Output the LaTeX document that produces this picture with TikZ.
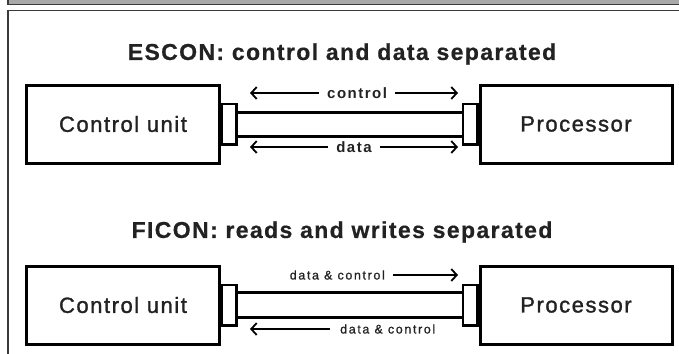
\documentclass[tikz,border=0pt]{standalone}
\usepackage{fontspec}
\setmainfont{Liberation Sans}
\usetikzlibrary{arrows.meta}
\usetikzlibrary{positioning}

\newfontfamily\headfont[LetterSpace=6,FakeBold=0.6]{Liberation Sans Bold}
\newfontfamily\boxfont[LetterSpace=7,FakeBold=1.4]{Liberation Sans}
\newfontfamily\tagfont[LetterSpace=10]{Liberation Sans Bold}
\newfontfamily\smallfont[LetterSpace=13,FakeBold=0.8]{Liberation Sans}
\definecolor{band}{HTML}{A9A9A9}
\definecolor{rim}{HTML}{3A3A3A}
\definecolor{ink}{HTML}{222222}

\tikzset{
  unit/.style={draw,line width=3bp,minimum width=192bp,minimum height=78bp,
    text=ink,font=\boxfont\fontsize{22bp}{24bp}\selectfont},
  plug/.style={draw,line width=2.5bp,minimum width=14.5bp,minimum height=40.5bp,inner sep=0pt},
  cable/.style={line width=3bp},
  flow/.style={line width=1.8bp,-{Straight Barb[length=5.5bp,width=12bp]}},
  both/.style={line width=1.8bp,{Straight Barb[length=5.5bp,width=12bp]}-{Straight Barb[length=5.5bp,width=12bp]}},
  tag/.style={fill=white,inner xsep=8bp,inner ysep=1bp,text=ink,font=\tagfont\fontsize{15bp}{17bp}\selectfont},
  smalltag/.style={inner sep=0pt,text=ink,font=\smallfont\fontsize{12.5bp}{14bp}\selectfont},
  heading/.style={text=ink,font=\headfont\fontsize{23bp}{26bp}\selectfont}
}

\begin{document}
\begin{tikzpicture}[x=1bp,y=-1bp]
      \useasboundingbox (0,0) rectangle (679,353);
      % page band and frame
      \fill[band] (8,-2) rectangle (682,4.5);
      \draw[rim,line width=1.2bp] (8,-2) -- (8,4.5) -- (682,4.5);
      \draw[rim,line width=1.5bp] (682,10.5) -- (8,10.5) -- (8,356);

      % ESCON
      \node[heading] (escon) at (342,54) {ESCON: control and data separated};
      \node[unit] (cuA) at (123,124) {Control unit};
      \node[unit] (prA) at (576,124) {Processor};
      \node[plug,right=0pt of cuA] (plugA1) {};
      \node[plug,left=0pt of prA] (plugA2) {};
      \draw[cable] ([yshift=12bp]plugA1.east) -- ([yshift=12bp]plugA2.west);
      \draw[cable] ([yshift=-12bp]plugA1.east) -- ([yshift=-12bp]plugA2.west);
      \coordinate (ctlL) at (250,93);
      \coordinate (ctlR) at (458,93);
      \coordinate (datL) at (250,147);
      \coordinate (datR) at (458,147);
      \draw[both] (ctlL) -- node[tag,pos=0.515] {control} (ctlR);
      \draw[both] (datL) -- node[tag,pos=0.5] {data} (datR);

      % FICON
      \node[heading] (ficon) at (342,232) {FICON: reads and writes separated};
      \node[unit] (cuB) at (123,305) {Control unit};
      \node[unit] (prB) at (576,305) {Processor};
      \node[plug,right=0pt of cuB] (plugB1) {};
      \node[plug,left=0pt of prB] (plugB2) {};
      \draw[cable] ([yshift=12.5bp]plugB1.east) -- ([yshift=12.5bp]plugB2.west);
      \draw[cable] ([yshift=-12.5bp]plugB1.east) -- ([yshift=-12.5bp]plugB2.west);
      \coordinate (wrL) at (393,275);
      \coordinate (wrR) at (458,275);
      \coordinate (rdR) at (330,329);
      \coordinate (rdL) at (250,329);
      \draw[flow] (wrL) -- (wrR);
      \node[smalltag,left=8bp of wrL] (wrtag) {data \& control};
      \draw[flow] (rdR) -- (rdL);
      \node[smalltag,right=10bp of rdR] (rdtag) {data \& control};
\end{tikzpicture}
\end{document}
